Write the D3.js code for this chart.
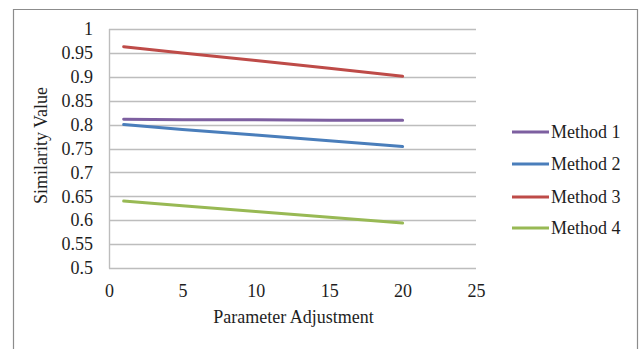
<!DOCTYPE html>
<html>
<head>
<meta charset="utf-8">
<script src="https://cdn.jsdelivr.net/npm/d3@7"></script>
<style>
  html, body { margin: 0; padding: 0; background: #fff; }
  svg text { font-family: "Liberation Serif", "Times New Roman", "DejaVu Serif", serif; font-size: 18px; fill: #1e1e1e; }
</style>
</head>
<body>
<div class="ChartWrapper"></div>
<script>
// data
const xValues = [1, 5, 10, 15, 20];
const method1 = [0.811, 0.810, 0.810, 0.809, 0.809];
const method2 = [0.800, 0.790, 0.778, 0.766, 0.754];
const method3 = [0.963, 0.950, 0.934, 0.918, 0.901];
const method4 = [0.640, 0.630, 0.618, 0.606, 0.594];
const seriesNames = ['Method 1', 'Method 2', 'Method 3', 'Method 4'];
const seriesColors = ['#7d5fa0', '#4a7ebb', '#be4b48', '#98b954'];
const xTicks = [0, 5, 10, 15, 20, 25];
const yTicks = [0.5, 0.55, 0.6, 0.65, 0.7, 0.75, 0.8, 0.85, 0.9, 0.95, 1];

const W = 639, H = 349;
const PLOT = { left: 109, right: 476, top: 29, bottom: 268 };

const svg = d3.select('.ChartWrapper')
  .append('svg')
  .attr('width', W)
  .attr('height', H);

// outer frame (left, top, right edges only)
svg.append('path')
  .attr('d', `M13.5,${H} V9.5 H637.5 V${H}`)
  .attr('fill', 'none')
  .attr('stroke', '#8c8c8c')
  .attr('stroke-width', 1.2);

const x = d3.scaleLinear().domain([0, 25]).range([PLOT.left, PLOT.right]);
const y = d3.scaleLinear().domain([0.5, 1]).range([PLOT.bottom, PLOT.top]);

// gridlines
svg.append('g')
  .selectAll('line')
  .data(yTicks)
  .enter()
  .append('line')
  .attr('x1', PLOT.left)
  .attr('x2', PLOT.right)
  .attr('y1', d => Math.round(y(d)) + 0.5)
  .attr('y2', d => Math.round(y(d)) + 0.5)
  .attr('stroke', '#bdbdbd')
  .attr('stroke-width', 1.4);

// left axis line
svg.append('line')
  .attr('x1', PLOT.left + 0.5).attr('x2', PLOT.left + 0.5)
  .attr('y1', PLOT.top).attr('y2', PLOT.bottom + 0.5)
  .attr('stroke', '#bdbdbd')
  .attr('stroke-width', 1.4);

// y tick labels
const yAxis = d3.axisLeft(y).tickValues(yTicks).tickSize(0).tickPadding(16)
  .tickFormat(d => String(+d.toFixed(2)));
const gy = svg.append('g')
  .attr('transform', `translate(${PLOT.left},0)`)
  .call(yAxis)
  .attr('font-family', null)
  .attr('font-size', null);
gy.select('.domain').remove();
gy.selectAll('text').attr('fill', null);

// x tick labels
const xAxis = d3.axisBottom(x).tickValues(xTicks).tickSize(0).tickPadding(16);
const gx = svg.append('g')
  .attr('transform', `translate(0,${PLOT.bottom})`)
  .call(xAxis)
  .attr('font-family', null)
  .attr('font-size', null);
gx.select('.domain').remove();
gx.selectAll('text').attr('fill', null);

// axis titles
svg.append('text')
  .attr('x', (PLOT.left + PLOT.right) / 2 + 1)
  .attr('y', 323)
  .attr('text-anchor', 'middle')
  .text('Parameter Adjustment');

svg.append('text')
  .attr('transform', `translate(47,${(PLOT.top + PLOT.bottom) / 2 - 3}) rotate(-90)`)
  .attr('text-anchor', 'middle')
  .text('Similarity Value');

// series lines
const allSeries = [method1, method2, method3, method4];
const line = d3.line()
  .x((d, i) => x(xValues[i]))
  .y(d => y(d));

svg.append('g')
  .selectAll('path')
  .data(allSeries)
  .enter()
  .append('path')
  .attr('d', line)
  .attr('fill', 'none')
  .attr('stroke', (d, i) => seriesColors[i])
  .attr('stroke-width', 3)
  .attr('stroke-linecap', 'round');

// legend
const legendY = [132, 164, 197, 228];
const legend = svg.append('g')
  .selectAll('g')
  .data(seriesNames)
  .enter()
  .append('g')
  .attr('transform', (d, i) => `translate(512,${legendY[i]})`);

legend.append('line')
  .attr('x1', 0).attr('x2', 37)
  .attr('y1', 0).attr('y2', 0)
  .attr('stroke', (d, i) => seriesColors[i])
  .attr('stroke-width', 3);

legend.append('text')
  .attr('x', 39)
  .attr('y', 6)
  .text(d => d);
</script>
</body>
</html>
